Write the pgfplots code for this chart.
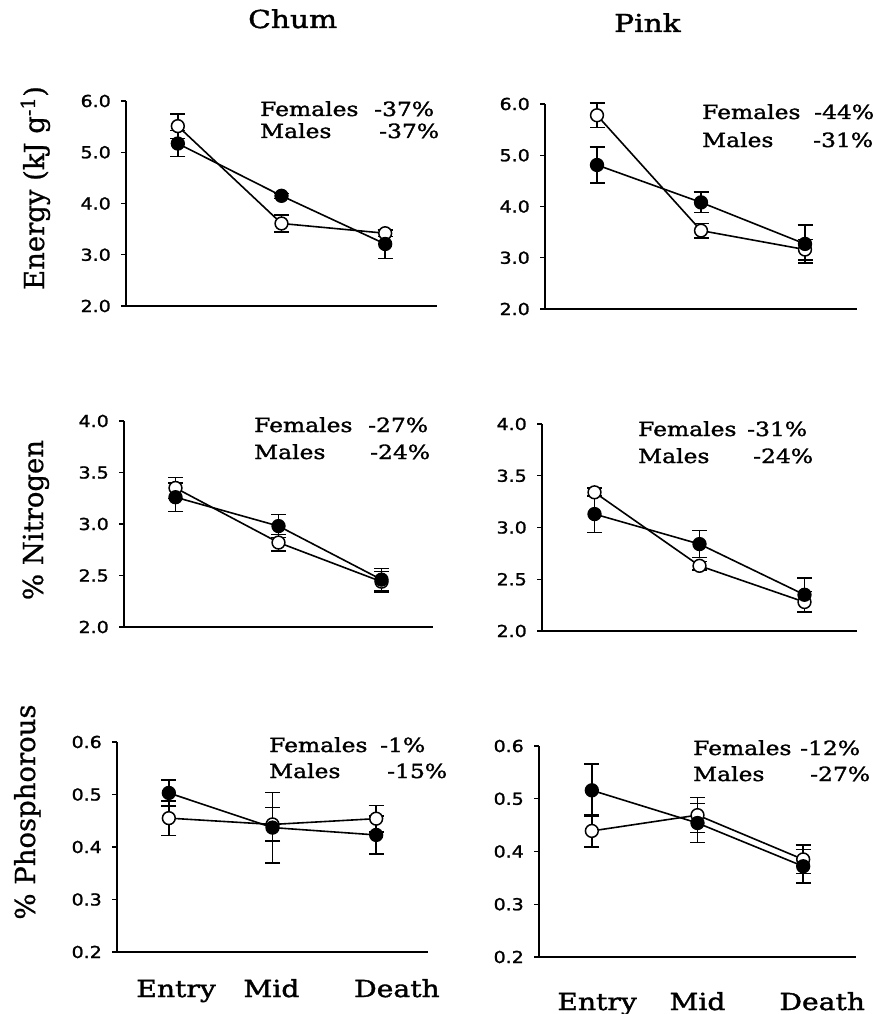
\documentclass[border=0pt]{standalone}
\usepackage{pgfplots}
\pgfplotsset{compat=1.18}
\usepackage{fontspec}
\newfontfamily\serifw[FakeStretch=1.2,FakeBold=1.6]{DejaVu Serif}
\newfontfamily\serifr[FakeBold=0.8]{DejaVu Serif}
\newfontfamily\sansw[FakeStretch=1.15,FakeBold=1.4]{DejaVu Sans}
\newcommand\tickfont{\sansw\fontsize{16.5}{18}\selectfont}
\newcommand\notefont{\serifw\fontsize{19.5}{22}\selectfont}
\newcommand\titlefont{\serifw\fontsize{24.7}{28}\selectfont}
\newcommand\catfont{\serifw\fontsize{23.5}{26}\selectfont}
\newcommand\labfont{\serifr\fontsize{27.5}{30}\selectfont}

\pgfplotsset{
  panel/.style={scale only axis, axis x line=bottom, axis y line=left,
    axis line style={-, line width=1.2pt, black},
    xmin=-0.5, xmax=2.5, xtick=\empty,
    tick align=outside, major tick length=5pt,
    ytick style={line width=1.2pt, black},
    yticklabel style={font=\tickfont, inner sep=0pt, xshift=-10pt,
      /pgf/number format/fixed, /pgf/number format/fixed zerofill,
      /pgf/number format/precision=1, /pgf/number format/assume math mode=true},
    clip=false},
  catx/.style={xtick style={draw=none},
    xticklabels={Entry,Mid,Death},
    xticklabel style={font=\catfont, anchor=base, inner sep=0pt, yshift=-#1}},
  ser/.style={black, line width=1.6pt, mark=*, mark size=6.4pt,
    mark options={solid, fill=#1, line width=1.5pt},
    error bars/.cd, y dir=both, y explicit,
    error bar style={line width=1.5pt, black},
    error mark options={rotate=90, mark size=7.5pt, line width=1.5pt, black}},
}

\begin{document}
\begin{tikzpicture}[x=1pt,y=1pt]
\useasboundingbox (0,0) rectangle (875,-1014);

% ---- Chum Energy
\begin{axis}[panel, at={(126pt,-306pt)}, anchor=south west, width=311pt, height=205pt,
  ymin=2, ymax=6, ytick={2,3,4,5,6}]
\addplot[ser=white] coordinates {(0,5.51) +- (0,0.24) (1,3.61) +- (0,0.17) (2,3.42) +- (0,0.06)};
\addplot[ser=black] coordinates {(0,5.17) +- (0,0.25) (1,4.15) +- (0,0.05) (2,3.21) +- (0,0.28)};
\end{axis}

% ---- Pink Energy
\begin{axis}[panel, at={(545pt,-309pt)}, anchor=south west, width=312pt, height=205pt,
  ymin=2, ymax=6, ytick={2,3,4,5,6}]
\addplot[ser=white] coordinates {(0,5.78) +- (0,0.24) (1,3.53) +- (0,0.14) (2,3.16) +- (0,0.2)};
\addplot[ser=black] coordinates {(0,4.81) +- (0,0.35) (1,4.08) +- (0,0.2) (2,3.27) +- (0,0.37)};
\end{axis}

% ---- Chum Nitrogen
\begin{axis}[panel, at={(124pt,-627pt)}, anchor=south west, width=309pt, height=206pt,
  ymin=2, ymax=4, ytick={2,2.5,3,3.5,4}]
\addplot[ser=white] coordinates {(0,3.35) +- (0,0.1) (1,2.82) +- (0,0.08) (2,2.44) +- (0,0.1)};
\addplot[ser=black] coordinates {(0,3.26) +- (0,0.14) (1,2.98) +- (0,0.11) (2,2.46) +- (0,0.11)};
\end{axis}

% ---- Pink Nitrogen
\begin{axis}[panel, at={(542pt,-631pt)}, anchor=south west, width=315pt, height=207pt,
  ymin=2, ymax=4, ytick={2,2.5,3,3.5,4}]
\addplot[ser=white] coordinates {(0,3.34) +- (0,0.04) (1,2.63) +- (0,0.04) (2,2.28) +- (0,0.1)};
\addplot[ser=black] coordinates {(0,3.13) +- (0,0.18) (1,2.84) +- (0,0.13) (2,2.35) +- (0,0.16)};
\end{axis}

% ---- Chum Phosphorous
\begin{axis}[panel, catx=40pt, at={(117pt,-952pt)}, anchor=south west, width=311pt, height=210pt,
  ymin=0.2, ymax=0.6, ytick={0.2,0.3,0.4,0.5,0.6}, xtick={0.07,0.99,2.2}]
\addplot[ser=white] coordinates {(0,0.455) +- (0,0.033) (1,0.443) +- (0,0.032) (2,0.454) +- (0,0.025)};
\addplot[ser=black] coordinates {(0,0.503) +- (0,0.025) (1,0.437) +- (0,0.067) (2,0.423) +- (0,0.036)};
\end{axis}

% ---- Pink Phosphorous
\begin{axis}[panel, catx=48pt, at={(539pt,-957pt)}, anchor=south west, width=317pt, height=211pt,
  ymin=0.2, ymax=0.6, ytick={0.2,0.3,0.4,0.5,0.6}, xtick={0.05,1.0,2.18}]
\addplot[ser=white] coordinates {(0,0.439) +- (0,0.03) (1,0.469) +- (0,0.033) (2,0.385) +- (0,0.027)};
\addplot[ser=black] coordinates {(0,0.516) +- (0,0.05) (1,0.454) +- (0,0.037) (2,0.372) +- (0,0.032)};
\end{axis}

% titles
\node[anchor=base west, inner sep=0pt, font=\titlefont] at (248,-28) {Chum};
\node[anchor=base west, inner sep=0pt, font=\titlefont] at (614,-32) {Pink};

% y labels
\node[rotate=90, anchor=base, inner sep=0pt, font=\labfont] at (44,-188) {Energy (kJ g\textsuperscript{-1})};
\node[rotate=90, anchor=base, inner sep=0pt, font=\labfont] at (43,-520) {\% Nitrogen};
\node[rotate=90, anchor=base, inner sep=0pt, font=\labfont] at (35,-812) {\% Phosphorous};

% annotations
\begin{scope}[every node/.style={anchor=base west, inner sep=0pt, font=\notefont}]
\node at (260,-116) {Females}; \node at (374,-116) {-37\%};
\node at (260,-138) {Males};   \node at (379,-138) {-37\%};
\node at (702,-119) {Females}; \node at (814,-119) {-44\%};
\node at (702,-147) {Males};   \node at (813,-147) {-31\%};
\node at (254,-432) {Females}; \node at (368,-432) {-27\%};
\node at (254,-459) {Males};   \node at (370,-459) {-24\%};
\node at (638,-436) {Females}; \node at (747,-436) {-31\%};
\node at (638,-463) {Males};   \node at (753,-463) {-24\%};
\node at (269,-752) {Females}; \node at (380,-752) {-1\%};
\node at (269,-778) {Males};   \node at (387,-778) {-15\%};
\node at (693,-755) {Females}; \node at (800,-755) {-12\%};
\node at (693,-781) {Males};   \node at (810,-781) {-27\%};
\end{scope}
\end{tikzpicture}
\end{document}
